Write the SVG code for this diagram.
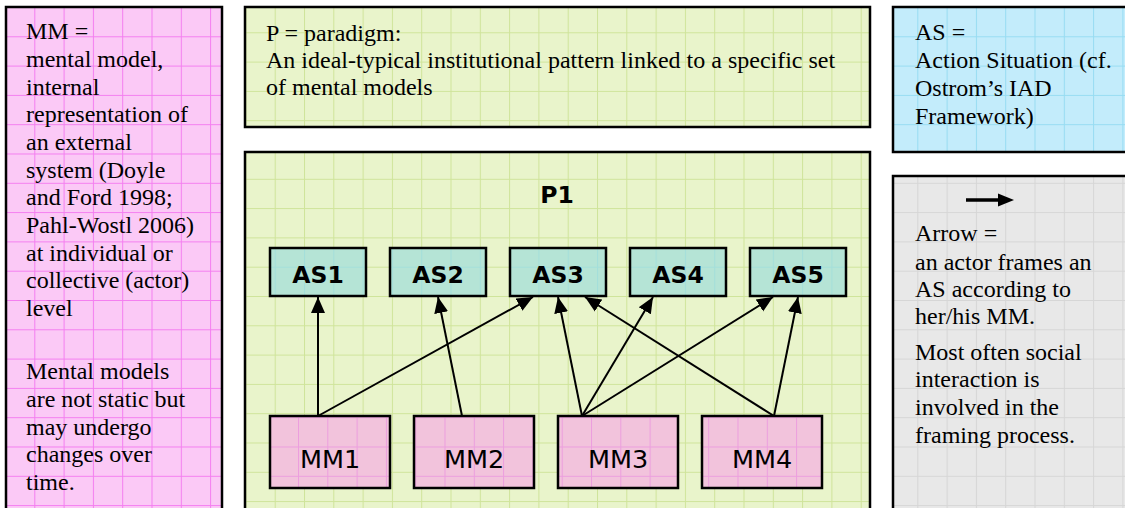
<svg xmlns="http://www.w3.org/2000/svg" width="1125" height="508" viewBox="0 0 1125 508">
<defs>
<pattern id="gPink" patternUnits="userSpaceOnUse" x="5" y="7" width="29.3" height="29.3">
<rect width="29.3" height="29.3" fill="#fbc9f6"/>
<path d="M0 0.5H29.3M0.5 0V29.3" stroke="#f47ef0" stroke-width="1" fill="none"/>
</pattern>
<pattern id="gGreen" patternUnits="userSpaceOnUse" x="11" y="3" width="29.3" height="29.3">
<rect width="29.3" height="29.3" fill="#e9f4cb"/>
<path d="M0 0.5H29.3M0.5 0V29.3" stroke="#cfe49a" stroke-width="1" fill="none"/>
</pattern>
<pattern id="gBlue" patternUnits="userSpaceOnUse" x="9" y="7" width="29.3" height="29.3">
<rect width="29.3" height="29.3" fill="#c3ecfb"/>
<path d="M0 0.5H29.3M0.5 0V29.3" stroke="#97dcf2" stroke-width="1" fill="none"/>
</pattern>
<pattern id="gGray" patternUnits="userSpaceOnUse" x="9" y="7" width="29.3" height="29.3">
<rect width="29.3" height="29.3" fill="#e8e8e8"/>
<path d="M0 0.5H29.3M0.5 0V29.3" stroke="#d6d6d6" stroke-width="1" fill="none"/>
</pattern>
<pattern id="gMM" patternUnits="userSpaceOnUse" x="5" y="7" width="29.3" height="29.3">
<rect width="29.3" height="29.3" fill="#f2c3dc"/>
<path d="M0 0.5H29.3M0.5 0V29.3" stroke="#ec9ede" stroke-width="1" fill="none"/>
</pattern>
<pattern id="gAS" patternUnits="userSpaceOnUse" x="11" y="3" width="29.3" height="29.3">
<rect width="29.3" height="29.3" fill="#b5e4d6"/>
<path d="M0 0.5H29.3M0.5 0V29.3" stroke="#a4dfda" stroke-width="1" fill="none"/>
</pattern>
<marker id="ah" markerUnits="userSpaceOnUse" markerWidth="16" markerHeight="16" viewBox="0 0 16 14" refX="16" refY="7" orient="auto">
<path d="M0 0L16 7L0 14Z" fill="#000"/>
</marker>
</defs>
<style>
.box{stroke:#000;stroke-width:2.5}
.t{font-family:"Liberation Serif","Times New Roman",serif;font-size:24px;fill:#000}
.as{font-family:"DejaVu Sans",Verdana,sans-serif;font-size:23.5px;font-weight:bold;fill:#000;text-anchor:middle}
.mm{font-family:"DejaVu Sans",Verdana,sans-serif;font-size:25.5px;fill:#000;text-anchor:middle}
.c{stroke:#000;stroke-width:2;fill:none;marker-end:url(#ah)}
</style>
<rect width="1125" height="508" fill="#fff"/>

<g id="mm-legend">
<rect class="box" x="6" y="7" width="216" height="510" fill="url(#gPink)"/>
<text class="t" x="26" y="39">MM =</text>
<text class="t" x="26" y="67">mental model,</text>
<text class="t" x="26" y="95">internal</text>
<text class="t" x="26" y="122">representation of</text>
<text class="t" x="26" y="150">an external</text>
<text class="t" x="26" y="178">system (Doyle</text>
<text class="t" x="26" y="205">and Ford 1998;</text>
<text class="t" x="26" y="233">Pahl-Wostl 2006)</text>
<text class="t" x="26" y="261">at individual or</text>
<text class="t" x="26" y="288">collective (actor)</text>
<text class="t" x="26" y="316">level</text>
<text class="t" x="26" y="379">Mental models</text>
<text class="t" x="26" y="407">are not static but</text>
<text class="t" x="26" y="435">may undergo</text>
<text class="t" x="26" y="462">changes over</text>
<text class="t" x="26" y="490">time.</text>
</g>

<g id="p-legend">
<rect class="box" x="245" y="7" width="625" height="120" fill="url(#gGreen)"/>
<text class="t" x="266" y="41">P = paradigm:</text>
<text class="t" x="266" y="68">An ideal-typical institutional pattern linked to a specific set</text>
<text class="t" x="266" y="95">of mental models</text>
</g>

<g id="as-legend">
<rect class="box" x="893" y="7" width="240" height="145" fill="url(#gBlue)"/>
<text class="t" x="915" y="40">AS =</text>
<text class="t" x="915" y="68">Action Situation (cf.</text>
<text class="t" x="915" y="96">Ostrom’s IAD</text>
<text class="t" x="915" y="124">Framework)</text>
</g>

<g id="arrow-legend">
<rect class="box" x="893" y="176" width="240" height="340" fill="url(#gGray)"/>
<line x1="966" y1="200" x2="999" y2="200" stroke="#000" stroke-width="3.5"/>
<path d="M998 193.5L1014 200L998 206.5Z" fill="#000"/>
<text class="t" x="915" y="241">Arrow =</text>
<text class="t" x="915" y="270">an actor frames an</text>
<text class="t" x="915" y="297">AS according to</text>
<text class="t" x="915" y="324">her/his MM.</text>
<text class="t" x="915" y="360">Most often social</text>
<text class="t" x="915" y="387">interaction is</text>
<text class="t" x="915" y="415">involved in the</text>
<text class="t" x="915" y="443">framing process.</text>
</g>

<g id="P1">
<rect class="box" x="245" y="152" width="625" height="365" fill="url(#gGreen)"/>
<text class="as" x="557" y="203">P1</text>
</g>

<g id="AS1"><rect class="box" x="270" y="248" width="96" height="48" fill="url(#gAS)"/><text class="as" x="318" y="283">AS1</text></g>
<g id="AS2"><rect class="box" x="390" y="248" width="96" height="48" fill="url(#gAS)"/><text class="as" x="438" y="283">AS2</text></g>
<g id="AS3"><rect class="box" x="510" y="248" width="96" height="48" fill="url(#gAS)"/><text class="as" x="558" y="283">AS3</text></g>
<g id="AS4"><rect class="box" x="630" y="248" width="96" height="48" fill="url(#gAS)"/><text class="as" x="678" y="283">AS4</text></g>
<g id="AS5"><rect class="box" x="750" y="248" width="96" height="48" fill="url(#gAS)"/><text class="as" x="798" y="283">AS5</text></g>

<g id="MM1"><rect class="box" x="270" y="416" width="120" height="72" fill="url(#gMM)"/><text class="mm" x="330" y="468">MM1</text></g>
<g id="MM2"><rect class="box" x="414" y="416" width="120" height="72" fill="url(#gMM)"/><text class="mm" x="474" y="468">MM2</text></g>
<g id="MM3"><rect class="box" x="558" y="416" width="120" height="72" fill="url(#gMM)"/><text class="mm" x="618" y="468">MM3</text></g>
<g id="MM4"><rect class="box" x="702" y="416" width="120" height="72" fill="url(#gMM)"/><text class="mm" x="762" y="468">MM4</text></g>

<g id="connectors">
<line class="c" x1="318" y1="416" x2="318" y2="297"/>
<line class="c" x1="318" y1="416" x2="533" y2="297"/>
<line class="c" x1="462" y1="416" x2="438" y2="297"/>
<line class="c" x1="582" y1="416" x2="558" y2="297"/>
<line class="c" x1="582" y1="416" x2="653" y2="297"/>
<line class="c" x1="582" y1="416" x2="773" y2="297"/>
<line class="c" x1="774" y1="416" x2="585" y2="297"/>
<line class="c" x1="774" y1="416" x2="798" y2="297"/>
</g>
</svg>
